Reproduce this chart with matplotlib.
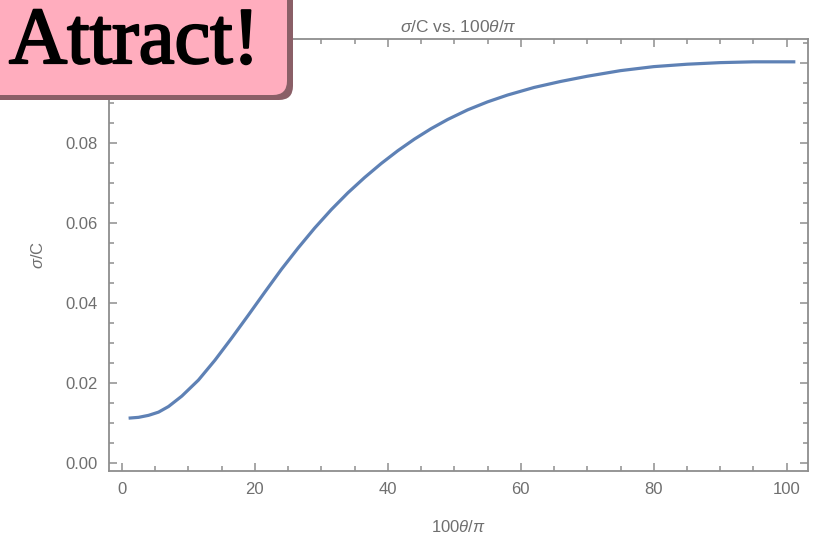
import matplotlib
matplotlib.use("Agg")
import matplotlib.pyplot as plt
import matplotlib.patheffects as pe
from matplotlib.patches import FancyBboxPatch
from matplotlib.transforms import IdentityTransform
from matplotlib.ticker import MultipleLocator

plt.rcParams["font.family"] = ["Liberation Sans", "DejaVu Sans"]
plt.rcParams["mathtext.fontset"] = "custom"
plt.rcParams["mathtext.rm"] = "Liberation Sans"
plt.rcParams["mathtext.it"] = "Liberation Sans:italic"

# 曲线读数 (100θ/π, σ/C)
theta = [1, 2.5, 4, 5.5, 7, 9, 11.5, 14, 16.5, 19, 21.5, 24, 26.5, 29, 31.5,
         34, 36.5, 39, 41.5, 44, 46.5, 49, 52, 55, 58, 62, 66, 70, 75, 80,
         85, 90, 95, 101.3]
sigma = [0.0113, 0.0115, 0.0120, 0.0128, 0.0142, 0.0168, 0.0208, 0.0258,
         0.0313, 0.0370, 0.0428, 0.0485, 0.0538, 0.0588, 0.0634, 0.0676,
         0.0714, 0.0749, 0.0781, 0.0810, 0.0836, 0.0859, 0.0883, 0.0903,
         0.0920, 0.0939, 0.0954, 0.0967, 0.0981, 0.0991, 0.0997, 0.1001,
         0.1003, 0.1003]

gray = "#8e8e8e"
txt = "#6f6f6f"

fig = plt.figure(figsize=(8.14, 5.44), dpi=100)
ax = fig.add_axes([0.1339, 0.1342, 0.8587, 0.7941])

ax.plot(theta, sigma, color="#5E81B5", lw=2.3, solid_capstyle="butt",
        solid_joinstyle="round")

ax.set_xlim(-1.95, 103.2)
ax.set_ylim(-0.0019, 0.106)
ax.xaxis.set_major_locator(MultipleLocator(20))
ax.xaxis.set_minor_locator(MultipleLocator(5))
ax.yaxis.set_major_locator(MultipleLocator(0.02))
ax.yaxis.set_minor_locator(MultipleLocator(0.005))
# 0.10 的标签被粉色标签盖住
ax.yaxis.set_major_formatter(lambda v, p: f"{v:.2f}" if v < 0.09 else "")

for s in ax.spines.values():
    s.set_color(gray)
    s.set_linewidth(1.3)
ax.tick_params(which="both", direction="in", top=True, right=True,
               color=gray, labelcolor=txt, labelsize=12, width=1.1)
ax.tick_params(which="major", length=6, pad=8)
ax.tick_params(which="minor", length=3.5)

ax.set_title(r"$\sigma$/C vs. 100$\theta$/$\pi$", color=txt, fontsize=12.5, pad=5)
ax.set_xlabel(r"100$\theta$/$\pi$", color=txt, fontsize=12, labelpad=16)
ax.set_ylabel(r"$\sigma$/C", color=txt, fontsize=12, labelpad=14)

# 左上角的粉色标签
H = 544
shadow = FancyBboxPatch((-40, H - 100), 333, 160,
                        boxstyle="round,pad=0,rounding_size=14",
                        transform=IdentityTransform(), facecolor="#8a5f67",
                        edgecolor="none")
box = FancyBboxPatch((-40, H - 95), 327, 160,
                     boxstyle="round,pad=0,rounding_size=14",
                     transform=IdentityTransform(), facecolor="#ffadbe",
                     edgecolor="none")
fig.add_artist(shadow)
fig.add_artist(box)
fig.text(9, H - 63, "Attract!", transform=IdentityTransform(),
         fontsize=58, family="Liberation Serif",
         color="black", ha="left", va="baseline",
         path_effects=[pe.withStroke(linewidth=1.6, foreground="black")])

fig.savefig("out.png", dpi=100)
